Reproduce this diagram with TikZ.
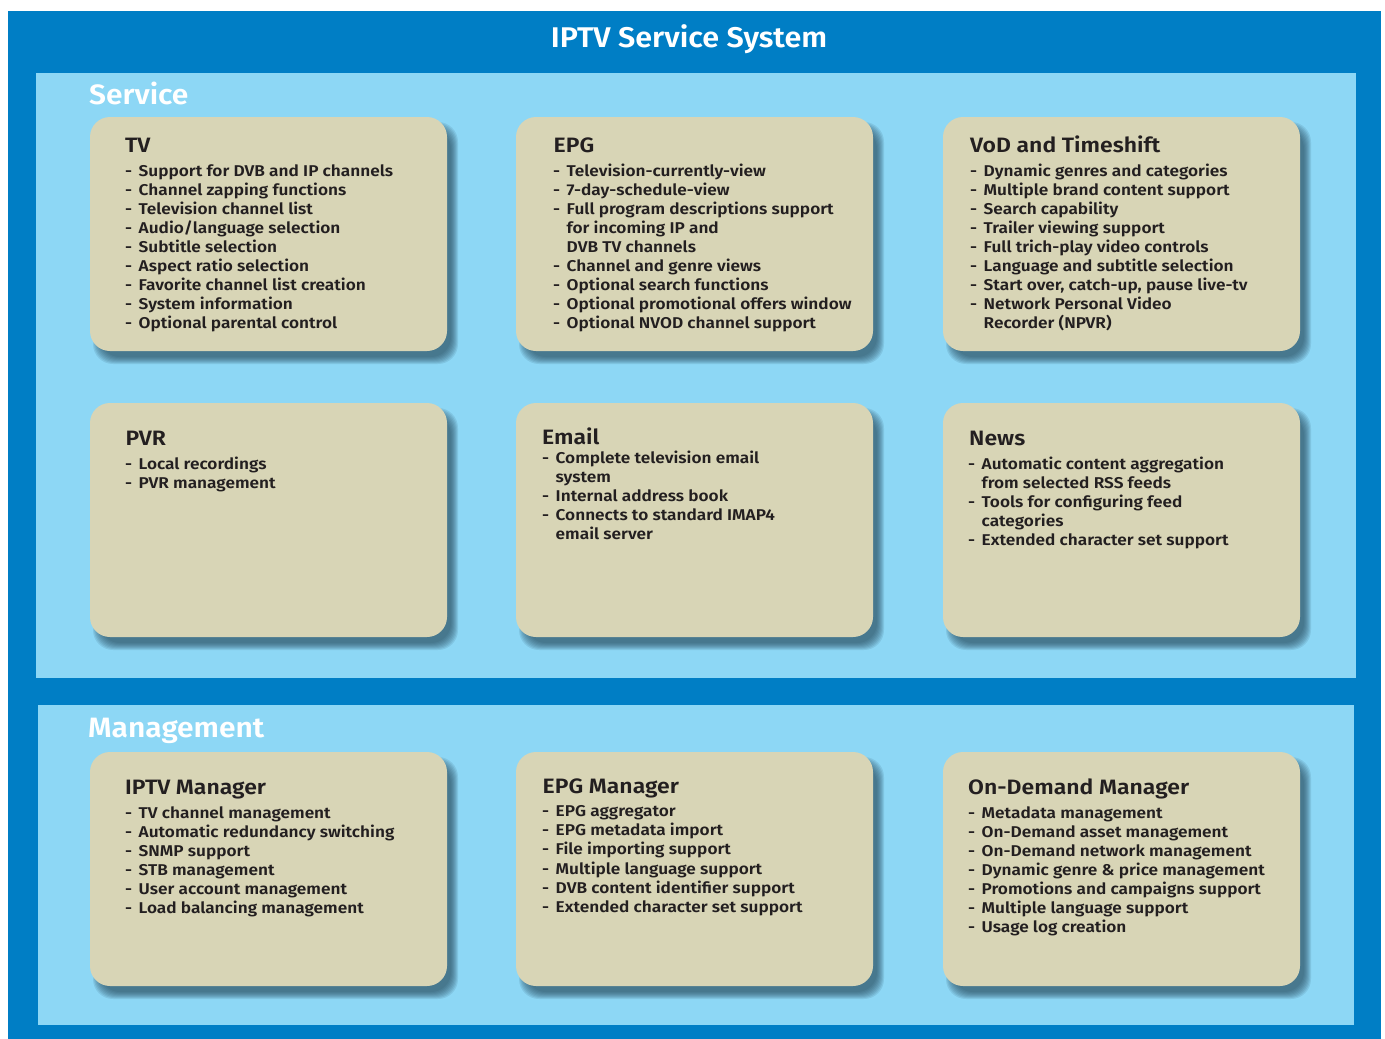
\documentclass[tikz,border=0pt]{standalone}
\usepackage{fontspec}
\setmainfont{Fira Sans}[UprightFont=* SemiBold, BoldFont=* Bold, FakeStretch=1.07]
\newfontfamily\cardfont{Fira Sans}[UprightFont=* SemiBold, BoldFont=* Bold, FakeStretch=1.105]
\definecolor{outerblue}{HTML}{007EC5}
\definecolor{panelblue}{HTML}{8DD7F5}
\definecolor{boxfill}{HTML}{D8D5B6}
\definecolor{txt}{HTML}{231F20}
\definecolor{shadowc}{HTML}{24465A}
\newlength\dashw \setlength\dashw{13.5pt}
\newcommand\dl{\makebox[\dashw][l]{-}}
\newcommand\cl{\hspace*{\dashw}}
\newcommand\blist[1]{\begin{tabular}[t]{@{}l@{}}#1\end{tabular}}
\newcommand\cardshadow[2]{%
  \foreach \k in {0,...,7}{%
    \fill[shadowc, opacity=0.12, rounded corners=20pt]
      ({#1+3+\k},{#2+5+\k}) rectangle ({#1+357+11-\k},{#2+234+13-\k});
  }%
}
\tikzset{
  card/.style={rounded corners=20pt, fill=boxfill, draw=none,
    minimum width=357pt, minimum height=234pt, anchor=north west,
    inner sep=0pt, outer sep=0pt},
  ctitle/.style={anchor=base west, inner sep=0pt, text=txt,
    font=\cardfont\fontsize{20.8}{24}\selectfont},
  citems/.style={anchor=base west, inner sep=0pt, text=txt,
    font=\cardfont\fontsize{15.6}{19.1}\selectfont},
  ptitle/.style={anchor=base west, inner sep=0pt, text=white,
    font=\fontsize{28}{32}\selectfont},
}
\begin{document}
\begin{tikzpicture}[x=1pt,y=-1pt]
\useasboundingbox (0,0) rectangle (1385,1039);
\fill[white] (0,0) rectangle (1385,1039);
\fill[outerblue] (8,11) rectangle (1381,1039);
\node[anchor=base, inner sep=0pt, text=white, font=\fontsize{28.5}{32}\selectfont] (main) at (689,47.3) {IPTV Service System};
% panels
\fill[panelblue] (36,73) rectangle (1356,678);
\fill[panelblue] (38,705) rectangle (1354,1025);
\node[ptitle] (svc) at (89,104) {Service};
\node[ptitle] (mgmt) at (88,737) {Management};
% shadows
\cardshadow{90}{117}\cardshadow{516}{117}\cardshadow{943}{117}
\cardshadow{90}{403}\cardshadow{516}{403}\cardshadow{943}{403}
\cardshadow{90}{752}\cardshadow{516}{752}\cardshadow{943}{752}
% cards
\node[card] (tv) at (90,117) {};
\node[card] (epg) at (516,117) {};
\node[card] (vod) at (943,117) {};
\node[card] (pvr) at (90,403) {};
\node[card] (email) at (516,403) {};
\node[card] (news) at (943,403) {};
\node[card] (iptvm) at (90,752) {};
\node[card] (epgm) at (516,752) {};
\node[card] (odm) at (943,752) {};
% TV
\node[ctitle] (tvT) at (125,152) {TV};
\node[citems] (tvL) at (125,176) {\blist{%
\dl Support for DVB and IP channels\\
\dl Channel zapping functions\\
\dl Television channel list\\
\dl Audio/language selection\\
\dl Subtitle selection\\
\dl Aspect ratio selection\\
\dl Favorite channel list creation\\
\dl System information\\
\dl Optional parental control}};
% EPG
\node[ctitle] (epgT) at (553.5,152.5) {EPG};
\node[citems] (epgL) at (553,176) {\blist{%
\dl Television-currently-view\\
\dl 7-day-schedule-view\\
\dl Full program descriptions support\\
\cl for incoming IP and\\
\cl DVB TV channels\\
\dl Channel and genre views\\
\dl Optional search functions\\
\dl Optional promotional offers window\\
\dl Optional NVOD channel support}};
% VoD
\node[ctitle] (vodT) at (970,152) {VoD and Timeshift};
\node[citems] (vodL) at (970,176) {\blist{%
\dl Dynamic genres and categories\\
\dl Multiple brand content support\\
\dl Search capability\\
\dl Trailer viewing support\\
\dl Full trich-play video controls\\
\dl Language and subtitle selection\\
\dl Start over, catch-up, pause live-tv\\
\dl Network Personal Video\\
\cl Recorder (NPVR)}};
% PVR
\node[ctitle] (pvrT) at (125.5,445.5) {PVR};
\node[citems] (pvrL) at (125,469.3) {\blist{%
\dl Local recordings\\
\dl PVR management}};
% Email
\node[ctitle] (emailT) at (542,444) {Email};
\node[citems] (emailL) at (542,463.3) {\blist{%
\dl Complete television email\\
\cl system\\
\dl Internal address book\\
\dl Connects to standard IMAP4\\
\cl email server}};
% News
\node[ctitle] (newsT) at (969,445) {News};
\node[citems] (newsL) at (968,469.3) {\blist{%
\dl Automatic content aggregation\\
\cl from selected RSS feeds\\
\dl Tools for configuring feed\\
\cl categories\\
\dl Extended character set support}};
% IPTV Manager
\node[ctitle] (iptvmT) at (125,794) {IPTV Manager};
\node[citems] (iptvmL) at (125,818.3) {\blist{%
\dl TV channel management\\
\dl Automatic redundancy switching\\
\dl SNMP support\\
\dl STB management\\
\dl User account management\\
\dl Load balancing management}};
% EPG Manager
\node[ctitle] (epgmT) at (542.5,793.3) {EPG Manager};
\node[citems] (epgmL) at (542,816.7) {\blist{%
\dl EPG aggregator\\
\dl EPG metadata import\\
\dl File importing support\\
\dl Multiple language support\\
\dl DVB content identifier support\\
\dl Extended character set support}};
% On-Demand Manager
\node[ctitle] (odmT) at (968,794) {On-Demand Manager};
\node[citems] (odmL) at (968,818.3) {\blist{%
\dl Metadata management\\
\dl On-Demand asset management\\
\dl On-Demand network management\\
\dl Dynamic genre \& price management\\
\dl Promotions and campaigns support\\
\dl Multiple language support\\
\dl Usage log creation}};
\end{tikzpicture}
\end{document}
